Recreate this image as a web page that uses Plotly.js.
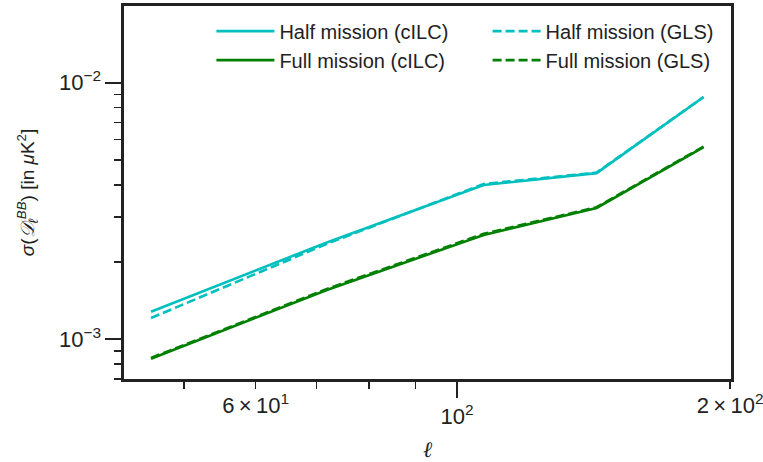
<!DOCTYPE html>
<html>
<head>
<meta charset="utf-8">
<script src="https://cdn.plot.ly/plotly-3.0.1.min.js"></script>
<style>html,body{margin:0;padding:0;background:#fff;}#chart{width:763px;height:462px;}</style>
</head>
<body>
<div id="chart"></div>
<script>
// multipole bins (ell)
const ell = [46, 72, 107, 142.5, 187];
// sigma(D_ell^BB) in uK^2
const halfCILC = [1.28e-3, 2.39e-3, 3.99e-3, 4.44e-3, 8.80e-3];
const halfGLS  = [1.21e-3, 2.36e-3, 4.03e-3, 4.46e-3, 8.80e-3];
const fullCILC = [8.39e-4, 1.56e-3, 2.55e-3, 3.25e-3, 5.61e-3];
const fullGLS  = [8.46e-4, 1.575e-3, 2.575e-3, 3.27e-3, 5.64e-3];

const seriesNames = ["Half mission (cILC)", "Half mission (GLS)", "Full mission (cILC)", "Full mission (GLS)"];

const yTickVals = [1e-3, 1e-2];
const yTickText = ["10<sup>\u22123</sup>", "10<sup>\u22122</sup>"];
const yMinorVals = [7e-4, 8e-4, 9e-4, 2e-3, 3e-3, 4e-3, 5e-3, 6e-3, 7e-3, 8e-3, 9e-3];
const xMajorVals = [100];
const xMajorText = ["10<sup>2</sup>"];
const xMinorVals = [50, 60, 70, 80, 90, 200];
const xMinorLabelVals = [60, 200];
const xMinorLabelText = ["6\u2009\u00d7\u200910<sup>1</sup>", "2\u2009\u00d7\u200910<sup>2</sup>"];

const cyan = "#00bfbf", green = "#008000";
const dash = "9px,4px";
const font = "Liberation Sans, Arial, Helvetica, sans-serif";
const tickFont = {size: 22, family: font, color: "#222"};

const traces = [
  {x: ell, y: halfCILC, name: seriesNames[0], mode: "lines", line: {color: cyan, width: 2.6}, legend: "legend"},
  {x: ell, y: fullCILC, name: seriesNames[2], mode: "lines", line: {color: green, width: 2.6}, legend: "legend"},
  {x: ell, y: halfGLS, name: seriesNames[1], mode: "lines", line: {color: cyan, width: 2.6, dash: dash}, legend: "legend2"},
  {x: ell, y: fullGLS, name: seriesNames[3], mode: "lines", line: {color: green, width: 2.6, dash: dash}, legend: "legend2"},
  {x: ell, y: fullCILC, xaxis: "x2", mode: "lines", line: {color: "rgba(0,0,0,0)", width: 0}, showlegend: false, hoverinfo: "skip"}
];

const xr = [1.633, 2.302];
const axisColor = "#222222";

const layout = {
  width: 763, height: 462,
  margin: {l: 124, r: 32, t: 6, b: 83},
  paper_bgcolor: "#fff", plot_bgcolor: "#fff",
  font: {family: font, size: 18, color: "#222"},
  showlegend: true,
  xaxis: {
    type: "log", range: xr,
    showgrid: false, zeroline: false,
    showline: true, linewidth: 2.6, linecolor: axisColor, mirror: true,
    ticks: "outside", ticklen: 16, tickwidth: 2, tickcolor: axisColor,
    tickmode: "array", tickvals: xMajorVals, ticktext: xMajorText,
    tickfont: tickFont, ticklabeloverflow: "allow",
    minor: {ticks: "outside", ticklen: 7, tickwidth: 1.6, tickcolor: axisColor, tickmode: "array", tickvals: xMinorVals},
    title: {text: "<i>\u2113</i>", font: {size: 22, family: "DejaVu Serif, serif", color: "#222"}, standoff: 32}
  },
  xaxis2: {
    type: "log", range: xr, overlaying: "x", anchor: "y", side: "bottom",
    showgrid: false, zeroline: false, showline: false,
    ticks: "outside", ticklen: 7, tickwidth: 0.01, tickcolor: "rgba(0,0,0,0)",
    tickmode: "array", tickvals: xMinorLabelVals, ticktext: xMinorLabelText,
    tickfont: tickFont, ticklabeloverflow: "allow"
  },
  yaxis: {
    type: "log", range: [-3.155, -1.701],
    showgrid: false, zeroline: false,
    showline: true, linewidth: 2.6, linecolor: axisColor, mirror: true,
    ticks: "outside", ticklen: 16, tickwidth: 2, tickcolor: axisColor,
    tickmode: "array", tickvals: yTickVals, ticktext: yTickText,
    tickfont: tickFont,
    minor: {ticks: "outside", ticklen: 7, tickwidth: 1.6, tickcolor: axisColor, tickmode: "array", tickvals: yMinorVals},
    title: {text: "<i>\u03c3</i>(<i>\ud835\udc9f</i><sub><i>\u2113</i></sub><sup><i>BB</i></sup>) [in <i>\u03bc</i>K<sup>2</sup>]", font: {size: 19, family: font, color: "#222"}, standoff: 20}
  },
  legend: {
    x: 0.144, y: 0.985, xanchor: "left", yanchor: "top",
    bgcolor: "rgba(0,0,0,0)", borderwidth: 0,
    font: {size: 20, family: font, color: "#222"},
    itemwidth: 58, tracegroupgap: 0
  },
  legend2: {
    x: 0.599, y: 0.985, xanchor: "left", yanchor: "top",
    bgcolor: "rgba(0,0,0,0)", borderwidth: 0,
    font: {size: 20, family: font, color: "#222"},
    itemwidth: 48, tracegroupgap: 0
  }
};

Plotly.newPlot("chart", traces, layout, {displayModeBar: false, staticPlot: true});
</script>
</body>
</html>
